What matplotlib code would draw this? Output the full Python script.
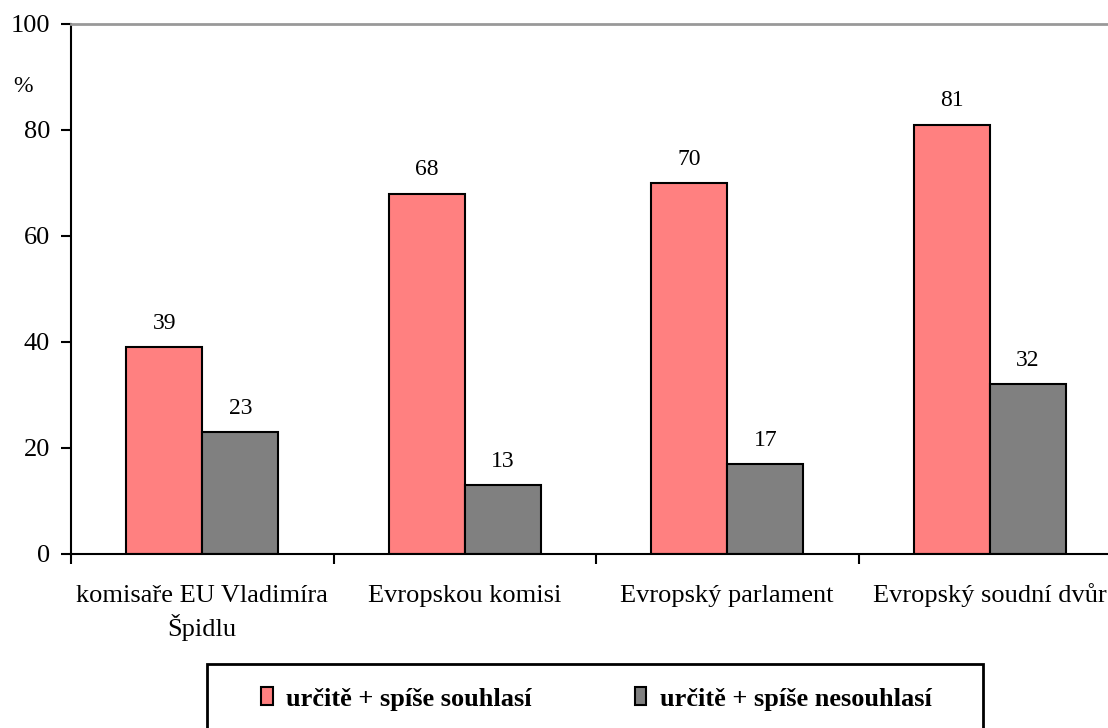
import numpy as np
import matplotlib.pyplot as plt
from matplotlib.patches import Patch, Rectangle

plt.rcParams['font.family'] = ['Liberation Serif', 'DejaVu Serif']

categories = ['komisaře EU Vladimíra\nŠpidlu', 'Evropskou komisi',
              'Evropský parlament', 'Evropský soudní dvůr']
agree = [39, 68, 70, 81]
disagree = [23, 13, 17, 32]
series_names = ['určitě + spíše souhlasí', 'určitě + spíše nesouhlasí']
colors = ['#FF8080', '#808080']

W, H = 1108, 728
fig = plt.figure(figsize=(W / 100, H / 100), dpi=100)
ax = fig.add_axes([71 / W, 1 - 554 / H, 1050 / W, 530 / H])

x = np.arange(len(categories))
w = 0.29
b1 = ax.bar(x - w / 2, agree, w, color=colors[0], edgecolor='black', linewidth=1.5)
b2 = ax.bar(x + w / 2, disagree, w, color=colors[1], edgecolor='black', linewidth=1.5)
for bars in (b1, b2):
    for r in bars:
        ax.text(r.get_x() + r.get_width() / 2, r.get_height() + 4.5, f'{r.get_height():.0f}',
                ha='center', va='center', fontsize=17)

ax.set_xlim(-0.5, len(categories) - 0.5)
ax.set_ylim(0, 100)
ax.set_yticks(range(0, 101, 20))
ax.tick_params(axis='y', direction='out', length=7, width=1.5, labelsize=19, pad=8)
ax.set_xticks(np.arange(-0.5, len(categories), 1))
ax.set_xticklabels([])
ax.tick_params(axis='x', direction='out', length=7, width=1.5)
# category names, one text per line so all first lines share a baseline
for i, c in enumerate(categories):
    for j, line in enumerate(c.split('\n')):
        ax.text(i, -9.0 - j * 6.5, line, ha='center', va='baseline', fontsize=19)

ax.spines['right'].set_visible(False)
ax.spines['top'].set_color('#999999')
ax.spines['top'].set_linewidth(2)
ax.spines['left'].set_linewidth(1.5)
ax.spines['bottom'].set_linewidth(1.5)

fig.text(13 / W, 1 - 87 / H, '%', fontsize=17, va='center', ha='left')

# legend box runs past the bottom edge of the picture
fig.patches.append(Rectangle((207 / W, -20 / H), 776 / W, (728 + 20 - 664) / H,
                             transform=fig.transFigure, facecolor='none',
                             edgecolor='black', linewidth=2, clip_on=False))
handles = [Patch(facecolor=colors[0], edgecolor='black', linewidth=1.5),
           Patch(facecolor=colors[1], edgecolor='black', linewidth=1.5)]
leg = fig.legend(handles, series_names, ncol=2, loc='center left',
                 bbox_to_anchor=(261 / W, 1 - 699 / H), frameon=False,
                 borderpad=0, borderaxespad=0, handlelength=0.45, handleheight=0.65,
                 handletextpad=0.5, columnspacing=3.9,
                 prop={'weight': 'bold', 'size': 19})

fig.savefig('out.png', dpi=100)
